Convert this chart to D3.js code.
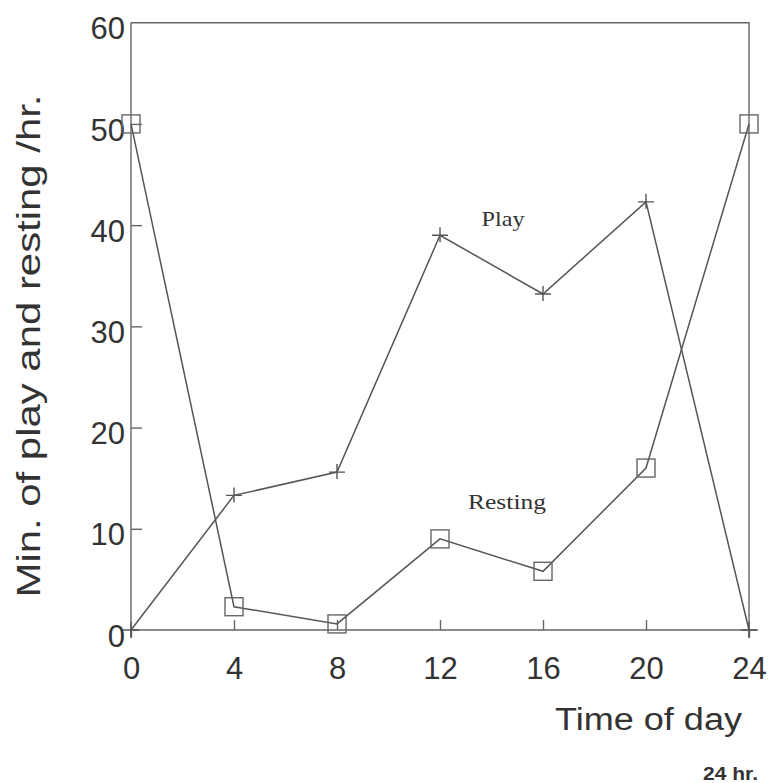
<!DOCTYPE html>
<html>
<head>
<meta charset="utf-8">
<script src="https://cdn.jsdelivr.net/npm/d3@7"></script>
<style>
  body { margin: 0; background: #fff; }
  text { fill: #333; }
</style>
</head>
<body>
<div class="graph"></div>
<script>
const w = 771;
const h = 783;

// data
const hours = [0, 4, 8, 12, 16, 20, 24];
const play = [0, 13.3, 15.6, 39.0, 33.2, 42.3, 0];
const resting = [50, 2.3, 0.6, 9.0, 5.8, 16.0, 50];
const xTicks = [0, 4, 8, 12, 16, 20, 24];
const yTicks = [0, 10, 20, 30, 40, 50, 60];

const x = d3.scaleLinear().domain([0, 24]).range([131, 749]);
const y = d3.scaleLinear().domain([0, 60]).range([630, 22.7]);

const ink = "#555";

const canvas = d3.select(".graph")
                 .append("svg")
                 .attr("width", w)
                 .attr("height", h);

// frame: top and right
canvas.append("path")
      .attr("d", `M${x(0)},${y(60)}H${x(24)}V${y(0) + 8}`)
      .attr("fill", "none")
      .attr("stroke", "#666")
      .attr("stroke-width", 1.4);

// x axis, ticks pointing in
const xAxis = canvas.append("g")
      .attr("transform", `translate(0, ${y(0)})`)
      .call(d3.axisBottom(x).tickValues(xTicks).tickSize(-10).tickPadding(49).tickSizeOuter(0));
xAxis.select(".domain").attr("d", `M${x(0)},0H${x(24) + 9}`);
xAxis.selectAll(".tick line")
     .attr("y2", d => (d === 0 || d === 24) ? 8 : -10);
xAxis.selectAll("text")
     .attr("font-family", "Liberation Sans, Arial, sans-serif")
     .attr("font-size", 31)
     .attr("dy", 0);

// y axis
const yAxis = canvas.append("g")
      .attr("transform", `translate(${x(0)}, 0)`)
      .call(d3.axisLeft(y).tickValues(yTicks).tickSize(-11).tickPadding(6).tickSizeOuter(0));
yAxis.select(".domain").attr("d", `M0,${y(60)}V${y(0) + 8}`);
yAxis.selectAll(".tick line").filter(d => d === 0 || d === 60).remove();
yAxis.selectAll("text")
     .attr("font-family", "Liberation Sans, Arial, sans-serif")
     .attr("font-size", 31)
     .attr("dy", "0.52em");

canvas.selectAll(".domain, .tick line")
      .attr("stroke", "#666")
      .attr("stroke-width", 1.4);

// lines
const line = d3.line()
               .x((d, i) => x(hours[i]))
               .y(d => y(d));

canvas.append("path")
      .datum(play)
      .attr("d", line)
      .attr("fill", "none")
      .attr("stroke", ink)
      .attr("stroke-width", 1.5);

canvas.append("path")
      .datum(resting)
      .attr("d", line)
      .attr("fill", "none")
      .attr("stroke", ink)
      .attr("stroke-width", 1.5);

// markers
canvas.append("g")
      .selectAll("path")
      .data(play)
      .enter()
      .append("path")
      .attr("d", (d, i) => `M${x(hours[i]) - 8},${y(d)}h16M${x(hours[i])},${y(d) - 8}v15`)
      .attr("stroke", ink)
      .attr("stroke-width", 1.4);

canvas.append("g")
      .selectAll("rect")
      .data(resting)
      .enter()
      .append("rect")
      .attr("x", (d, i) => x(hours[i]) - 9)
      .attr("y", d => y(d) - 9)
      .attr("width", 18)
      .attr("height", 18)
      .attr("fill", "none")
      .attr("stroke", "#666")
      .attr("stroke-width", 1.4);

// series labels
canvas.append("text")
      .attr("x", 503).attr("y", 226)
      .attr("text-anchor", "middle")
      .attr("font-family", "Liberation Serif, Times New Roman, serif")
      .attr("font-size", 22)
      .attr("textLength", 43)
      .attr("lengthAdjust", "spacingAndGlyphs")
      .text("Play");

canvas.append("text")
      .attr("x", 507).attr("y", 509)
      .attr("text-anchor", "middle")
      .attr("font-family", "Liberation Serif, Times New Roman, serif")
      .attr("font-size", 22)
      .attr("textLength", 78)
      .attr("lengthAdjust", "spacingAndGlyphs")
      .text("Resting");

// axis titles
canvas.append("text")
      .attr("transform", "translate(40, 346) rotate(-90)")
      .attr("text-anchor", "middle")
      .attr("font-family", "Liberation Sans, Arial, sans-serif")
      .attr("font-size", 34)
      .attr("textLength", 503)
      .attr("lengthAdjust", "spacingAndGlyphs")
      .text("Min. of play and resting /hr.");

canvas.append("text")
      .attr("x", 742).attr("y", 730)
      .attr("text-anchor", "end")
      .attr("font-family", "Liberation Sans, Arial, sans-serif")
      .attr("font-size", 31)
      .attr("textLength", 187)
      .attr("lengthAdjust", "spacingAndGlyphs")
      .text("Time of day");

canvas.append("text")
      .attr("x", 758).attr("y", 780)
      .attr("text-anchor", "end")
      .attr("font-family", "Liberation Sans, Arial, sans-serif")
      .attr("font-size", 19)
      .attr("font-weight", "bold")
      .attr("textLength", 55)
      .attr("lengthAdjust", "spacingAndGlyphs")
      .text("24 hr.");
</script>
</body>
</html>
